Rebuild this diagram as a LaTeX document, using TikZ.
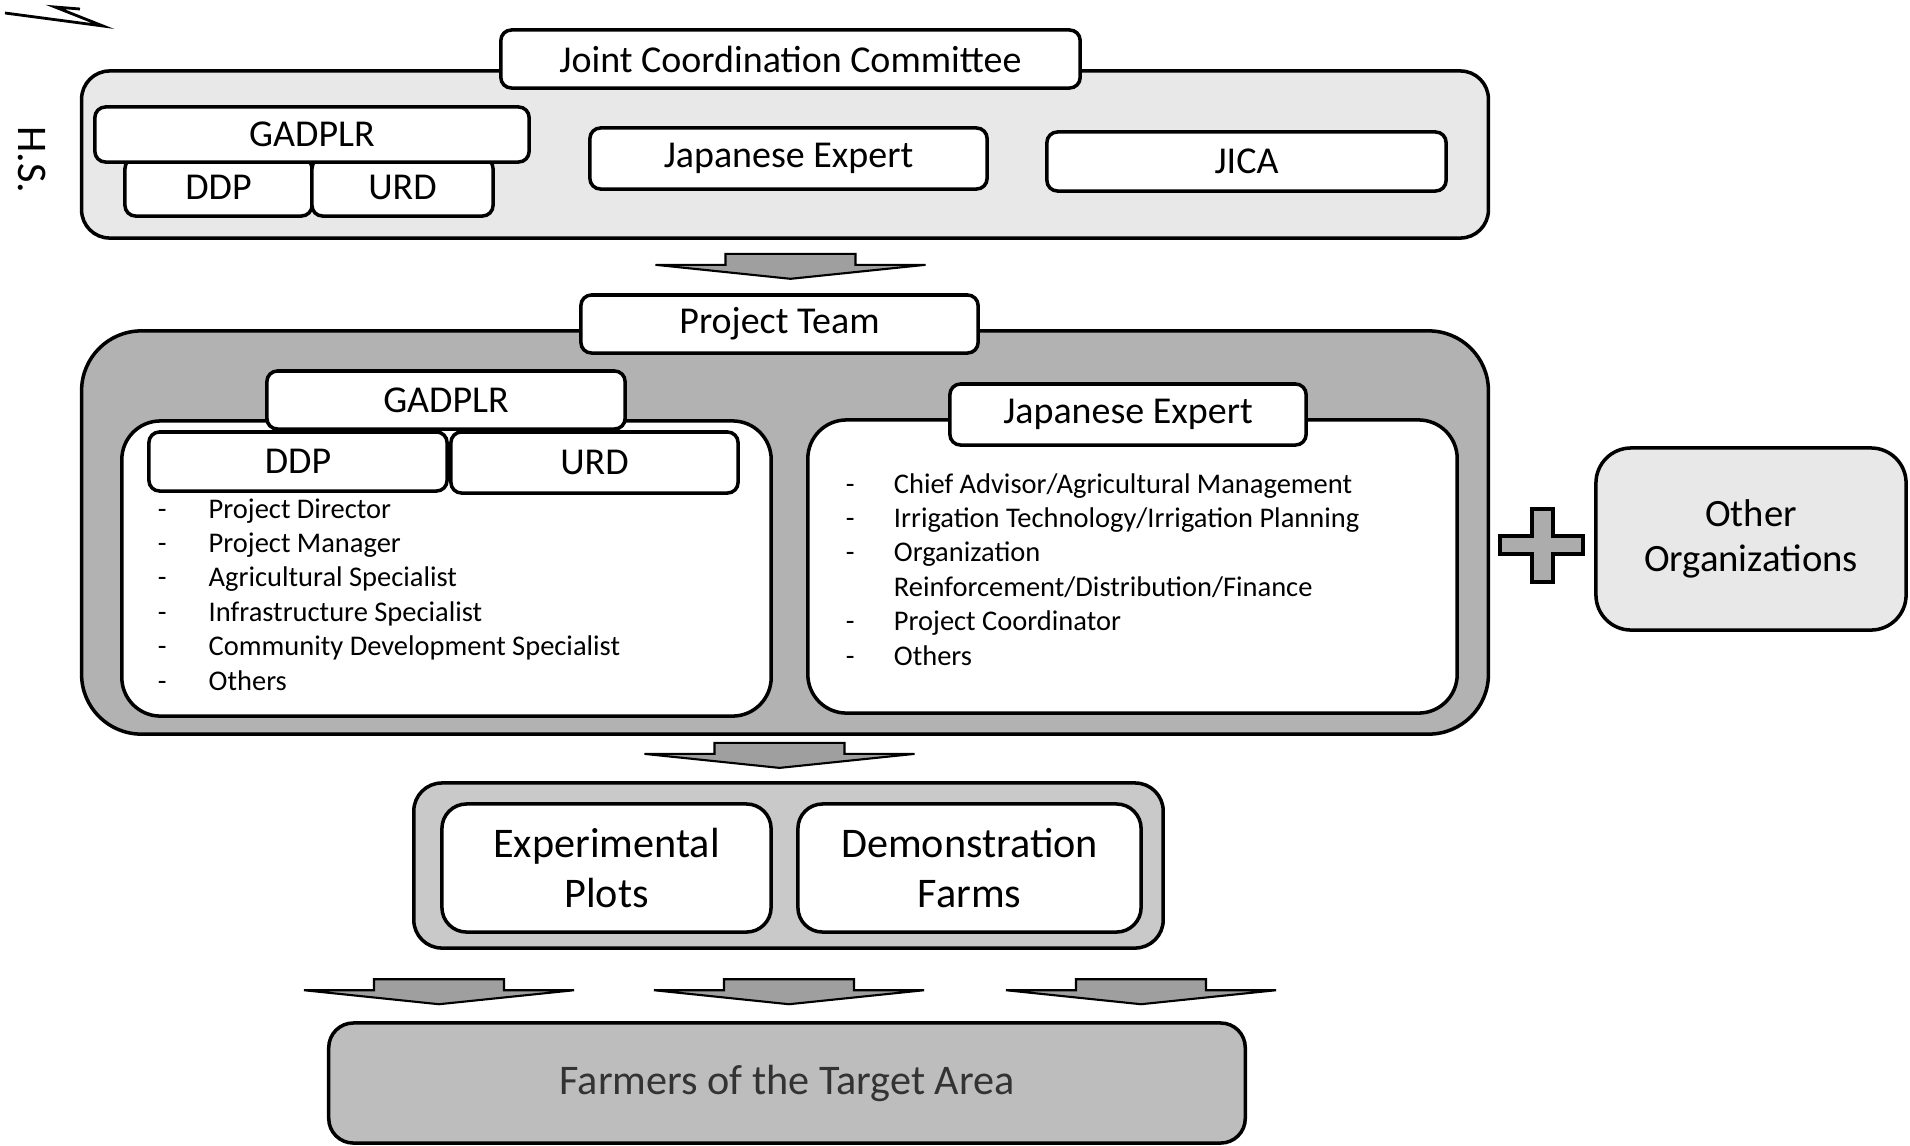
\documentclass[tikz,border=0pt]{standalone}
\usepackage{fontspec}
\setmainfont{Carlito}
\usetikzlibrary{calc}

\begin{document}
\begin{tikzpicture}[x=0.01cm, y=-0.01cm, line width=1pt,
        boxsize/.style 2 args={minimum width=#1cm, minimum height=#2cm},
        box/.style={draw, fill=white, rounded corners=3pt, inner sep=0pt,
            font=\fontsize{10.8}{13}\selectfont},
        bigbox/.style={draw, fill=white, rounded corners=7pt, inner sep=0pt,
            align=center, font=\fontsize{12}{14}\selectfont},
        panel/.style={draw, fill=white, rounded corners=11pt, inner sep=0pt},
        lightarea/.style={draw, fill=gray!18, inner sep=0pt},
        darkarea/.style={draw, fill=gray!60, inner sep=0pt},
        midarea/.style={draw, fill=gray!42, inner sep=0pt},
        listtext/.style={inner sep=0pt, anchor=base west,
            font=\fontsize{8.1}{9.8}\selectfont},
        bigarrow/.pic={
            \draw[fill=gray!75, line width=0.6pt] (-65,0) -- (65,0) -- (65,11)
                -- (135,11) -- (0,25) -- (-135,11) -- (-65,11) -- cycle;
        }]
    \useasboundingbox (0,0) rectangle (1910,1145);

    % handwritten marks
    \draw[line width=0.8pt] (5,13) -- (103,26) -- (55,7) -- (80,9);
    \node[rotate=-90, inner sep=0pt, font=\fontsize{12}{12}\selectfont] (hs) at (32,160) {H.S.};

    % joint coordination committee
    \node[lightarea, rounded corners=8pt, boxsize={14.06}{1.67}] (jcarea) at (785,154.5) {};
    \node[box, boxsize={5.79}{0.58}] (jcc) at (790.5,59) {Joint Coordination Committee};
    \node[box, boxsize={1.87}{0.58}] (ddptop) at (218.5,187) {DDP};
    \node[box, boxsize={1.81}{0.58}] (urdtop) at (402.5,187) {URD};
    \node[box, boxsize={4.34}{0.55}] (gadtop) at (312,134.5) {GADPLR};
    \node[box, boxsize={3.97}{0.61}] (jetop) at (788.5,158.5) {Japanese Expert};
    \node[box, boxsize={3.99}{0.59}] (jica) at (1246.5,161.5) {JICA};

    \pic at ($(jcc.south |- jcarea.south)+(0,14)$) {bigarrow};

    % project team
    \node[darkarea, rounded corners=17pt, boxsize={14.06}{4.03}] (teamarea) at (785,532.5) {};
    \node[box, boxsize={3.97}{0.58}] (team) at (779.5,324) {Project Team};
    \node[panel, boxsize={6.49}{2.95}] (gadpanel) at (446.5,568.5) {};
    \node[panel, boxsize={6.49}{2.93}] (jepanel) at (1132.5,566.5) {};
    \node[box, boxsize={3.58}{0.58}] (gadmid) at (446,400) {GADPLR};
    \node[box, boxsize={2.98}{0.59}] (ddpmid) at (298,461.5) {DDP};
    \node[box, boxsize={2.87}{0.61}] (urdmid) at (594.5,462.5) {URD};
    \node[box, boxsize={3.56}{0.61}] (jemid) at (1128,414.5) {Japanese Expert};

    \node[listtext] (gadlist) at (156,518) {\begin{tabular}[t]{@{}p{14.5pt}@{}l@{}}
        - & Project Director\\
        - & Project Manager\\
        - & Agricultural Specialist\\
        - & Infrastructure Specialist\\
        - & Community Development Specialist\\
        - & Others
        \end{tabular}};
    \node[listtext] (jelist) at (844,493) {\begin{tabular}[t]{@{}p{13.7pt}@{}l@{}}
        - & Chief Advisor/Agricultural Management\\
        - & Irrigation Technology/Irrigation Planning\\
        - & Organization\\
          & Reinforcement/Distribution/Finance\\
        - & Project Coordinator\\
        - & Others
        \end{tabular}};

    % other organizations
    \draw[fill=gray!65] (1532,509) -- (1553,509) -- (1553,536) -- (1583,536)
        -- (1583,554) -- (1553,554) -- (1553,582) -- (1532,582) -- (1532,554)
        -- (1500,554) -- (1500,536) -- (1532,536) -- cycle;
    \node[lightarea, rounded corners=10pt, align=center, boxsize={3.10}{1.82},
        font=\fontsize{11}{13}\selectfont] (others) at (1751,539) {Other\\Organizations};

    \pic at ($(team.south |- teamarea.south)+(0,7)$) {bigarrow};

    % plots and farms
    \node[midarea, rounded corners=8pt, boxsize={7.49}{1.65}] (plotarea) at (788.5,865.5) {};
    \node[bigbox, boxsize={3.29}{1.28}] (plots) at (606.5,868) {Experimental\\Plots};
    \node[bigbox, boxsize={3.43}{1.28}] (farms) at (969.5,868) {Demonstration\\Farms};

    % target area
    \node[midarea, fill=gray!52, rounded corners=7pt, text=black!80, boxsize={9.16}{1.20},
        font=\fontsize{12}{14}\selectfont] (farmers) at (787,1083) {Farmers of the Target Area};

    \pic at ($(farmers.north)+(-348,-42)$) {bigarrow};
    \pic at ($(farmers.north)+(2,-42)$) {bigarrow};
    \pic at ($(farmers.north)+(354,-42)$) {bigarrow};
\end{tikzpicture}
\end{document}
